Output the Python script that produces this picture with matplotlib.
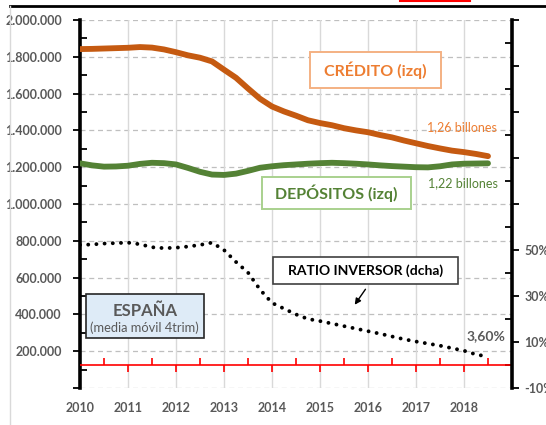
import matplotlib
matplotlib.use("Agg")
import matplotlib.pyplot as plt
from matplotlib.patches import Rectangle
from matplotlib.lines import Line2D
from matplotlib.ticker import FixedLocator, MultipleLocator, FuncFormatter
import numpy as np

plt.rcParams["font.family"] = ["Lato", "DejaVu Sans"]

# quarterly dates, 2010Q1 .. 2018Q3
dates = np.arange(35) * 0.25 + 2010.0

credito = [1.842, 1.843, 1.845, 1.847, 1.849, 1.853, 1.850, 1.840, 1.825, 1.808,
           1.795, 1.775, 1.730, 1.686, 1.628, 1.572, 1.530, 1.503, 1.480, 1.455,
           1.440, 1.428, 1.412, 1.400, 1.390, 1.375, 1.362, 1.345, 1.330, 1.315,
           1.302, 1.290, 1.282, 1.272, 1.260]  # millones (x1e6 on the axis)

depositos = [1.221, 1.210, 1.203, 1.204, 1.208, 1.218, 1.224, 1.222, 1.215, 1.196,
             1.175, 1.160, 1.158, 1.165, 1.180, 1.197, 1.205, 1.211, 1.215, 1.219,
             1.222, 1.224, 1.222, 1.219, 1.215, 1.210, 1.206, 1.203, 1.200, 1.199,
             1.205, 1.215, 1.219, 1.220, 1.221]

ratio = [52.2, 52.4, 52.8, 53.0, 53.2, 52.5, 51.2, 50.8, 51.0, 51.5,
         52.2, 53.2, 50.0, 44.8, 40.2, 32.8, 27.0, 24.5, 22.0, 20.0,
         19.1, 18.0, 16.9, 15.8, 14.7, 13.6, 12.4, 11.2, 10.2, 9.3,
         8.4, 7.3, 6.2, 4.6, 3.6]  # %

year_labels = [str(y) for y in range(2010, 2019)]

ORANGE = "#C55A11"
ORANGE_TXT = "#ED7D31"
GREEN = "#548235"
GREY = "#595959"

fig = plt.figure(figsize=(5.46, 4.25), dpi=100)
ax = fig.add_axes([80 / 546, 37 / 425, 432 / 546, 368 / 425])
ax2 = ax.twinx()

ax.set_xlim(2010, 2019)
ax.set_ylim(0, 2_000_000)
ax2.set_ylim(-10, 150)

# grid
for v in np.arange(0, 2_000_001, 200_000):
    ax.axhline(v, color="#BFBFBF", lw=0.9, ls=(0, (4, 3)), zorder=0)
for yr in range(2011, 2019):
    ax.axvline(yr, color="#D9D9D9", lw=1.0, zorder=0)

ax.plot(dates, np.array(credito) * 1e6, color=ORANGE, lw=4.2, solid_capstyle="round", zorder=3)
ax.plot(dates, np.array(depositos) * 1e6, color=GREEN, lw=4.2, solid_capstyle="round", zorder=3)
ax2.plot(dates, ratio, color="black", lw=2.8, ls=(0, (0.01, 2.1)),
         dash_capstyle="round", zorder=3)

# red zero line on right axis with half-year ticks
ax2.axhline(0, color="red", lw=1.2, zorder=2)
ax2.plot(np.arange(2011, 2020), np.zeros(9), ls="none", marker=3, ms=5, mew=1.2, color="red")
ax2.plot(np.arange(2010.5, 2019, 1.0), np.zeros(9), ls="none", marker=2, ms=5, mew=1.2, color="red")

# spines / ticks
for a in (ax, ax2):
    for s in ("top", "bottom"):
        a.spines[s].set_visible(False)
ax.spines["right"].set_visible(False)
ax.spines["left"].set_linewidth(2.6)
ax2.spines["left"].set_visible(False)
ax2.spines["right"].set_linewidth(2.6)

ax.yaxis.set_major_locator(MultipleLocator(200_000))
ax.yaxis.set_minor_locator(MultipleLocator(100_000))
ax.yaxis.set_major_formatter(
    FuncFormatter(lambda v, p: f"{int(v):,}".replace(",", ".") if v > 0 else ""))
ax.tick_params(axis="y", which="major", direction="out", length=5, width=1.3, pad=8,
               labelsize=9, labelcolor=GREY)
ax.tick_params(axis="y", which="minor", direction="in", length=5, width=1.3)
for t in ax.get_yticklabels():
    t.set_fontweight("bold")

ax.set_xticks(range(2010, 2019))
ax.set_xticklabels(year_labels, fontweight="bold", color=GREY, fontsize=9)
ax.tick_params(axis="x", length=0, pad=10)

ax2.yaxis.set_major_locator(FixedLocator(np.arange(-10, 151, 20)))
ax2.yaxis.set_minor_locator(FixedLocator(np.arange(0, 141, 20)))
ax2.yaxis.set_major_formatter(FuncFormatter(lambda v, p: f"{int(round(v))}%" if v <= 50 else ""))
ax2.tick_params(axis="y", which="major", direction="out", length=5, width=1.3, pad=4,
                labelsize=9, labelcolor=GREY)
ax2.tick_params(axis="y", which="minor", direction="in", length=5, width=1.3)
for t in ax2.get_yticklabels():
    t.set_fontweight("bold")


def box(x0, y0, x1, y1, edge, face="white", lw=1.2):
    ax.add_patch(Rectangle((x0, y0), x1 - x0, y1 - y0, facecolor=face, edgecolor=edge,
                           lw=lw, zorder=5))


box(2014.79, 1.630e6, 2017.52, 1.826e6, "#F4B183", lw=1.4)
ax.text(2016.15, 1.728e6, "CRÉDITO (izq)", color=ORANGE_TXT, fontsize=11.5,
        fontweight="bold", ha="center", va="center", zorder=6)
ax.text(2017.96, 1.418e6, "1,26 billones", color=ORANGE_TXT, fontsize=9,
        ha="center", va="center", zorder=6)

box(2013.79, 0.973e6, 2016.90, 1.147e6, "#A9D18E", lw=1.4)
ax.text(2015.33, 1.060e6, "DEPÓSITOS (izq)", color=GREEN, fontsize=11.5,
        fontweight="bold", ha="center", va="center", zorder=6)
ax.text(2017.98, 1.114e6, "1,22 billones", color=GREEN, fontsize=9,
        ha="center", va="center", zorder=6)

box(2014.02, 0.565e6, 2017.875, 0.712e6, "#404040", lw=1.2)
ax.text(2015.95, 0.638e6, "RATIO INVERSOR (dcha)", color="black", fontsize=10,
        fontweight="bold", ha="center", va="center", zorder=6)
ax.annotate("", xy=(2015.69, 0.440e6), xytext=(2015.98, 0.549e6),
            arrowprops=dict(arrowstyle="-|>", color="black", lw=1.0, mutation_scale=9), zorder=6)

ax.text(2018.46, 0.283e6, "3,60%", color=GREY, fontsize=10, fontweight="bold",
        ha="center", va="center", zorder=6)

box(2010.125, 0.272e6, 2012.58, 0.511e6, "#262626", face="#DEEBF7", lw=1.2)
ax.text(2011.35, 0.418e6, "ESPAÑA", color=GREY, fontsize=12, fontweight="bold",
        ha="center", va="center", zorder=6)
ax.text(2011.35, 0.325e6, "(media móvil 4trim)", color=GREY, fontsize=9.3,
        ha="center", va="center", zorder=6)

# frame bits of the surrounding sheet
fig.add_artist(Line2D([10 / 546, 1], [1 - 6 / 425, 1 - 6 / 425], color="black", lw=2.0))
fig.add_artist(Line2D([10 / 546, 10 / 546], [0, 1 - 6 / 425], color="#D9D9D9", lw=1.0))
fig.add_artist(Line2D([400 / 546, 470 / 546], [1 - 1 / 425, 1 - 1 / 425], color="red", lw=1.5))

fig.savefig("out.png", dpi=100)
